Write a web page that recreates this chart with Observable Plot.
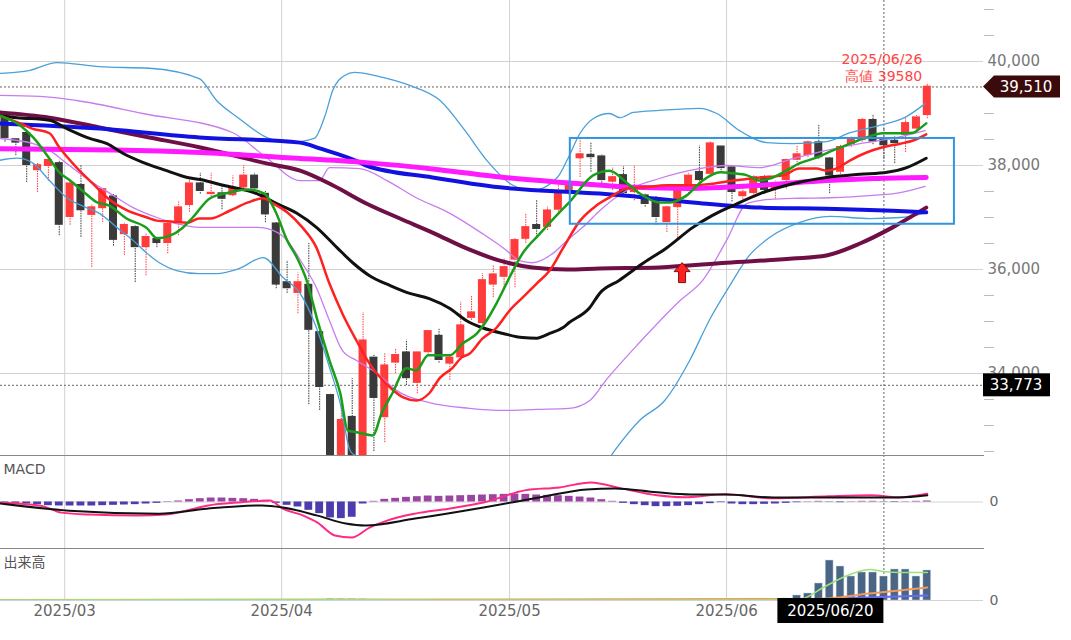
<!DOCTYPE html>
<html><head><meta charset="utf-8">
<script src="https://cdn.jsdelivr.net/npm/d3@7"></script>
<script src="https://cdn.jsdelivr.net/npm/@observablehq/plot@0.6"></script>
<style>
body{margin:0;background:#fff;font-family:"DejaVu Sans",Verdana,sans-serif;}
#wrap{position:relative;width:1071px;height:640px;overflow:hidden;background:#fff;}
#wrap svg{position:absolute;left:0;overflow:visible;}
</style></head><body><div id="wrap"></div>
<script>
// ---------- data ----------
const dates = ["2025-02-20","2025-02-21","2025-02-25","2025-02-26","2025-02-27","2025-02-28",
"2025-03-03","2025-03-04","2025-03-05","2025-03-06","2025-03-07","2025-03-10","2025-03-11","2025-03-12","2025-03-13","2025-03-14","2025-03-17","2025-03-18","2025-03-19","2025-03-21","2025-03-24","2025-03-25","2025-03-26","2025-03-27","2025-03-28","2025-03-31",
"2025-04-01","2025-04-02","2025-04-03","2025-04-04","2025-04-07","2025-04-08","2025-04-09","2025-04-10","2025-04-11","2025-04-14","2025-04-15","2025-04-16","2025-04-17","2025-04-18","2025-04-21","2025-04-22","2025-04-23","2025-04-24","2025-04-25","2025-04-28","2025-04-30",
"2025-05-01","2025-05-02","2025-05-07","2025-05-08","2025-05-09","2025-05-12","2025-05-13","2025-05-14","2025-05-15","2025-05-16","2025-05-19","2025-05-20","2025-05-21","2025-05-22","2025-05-23","2025-05-26","2025-05-27","2025-05-28","2025-05-29","2025-05-30",
"2025-06-02","2025-06-03","2025-06-04","2025-06-05","2025-06-06","2025-06-09","2025-06-10","2025-06-11","2025-06-12","2025-06-13","2025-06-16","2025-06-17","2025-06-18","2025-06-19","2025-06-20","2025-06-23","2025-06-24","2025-06-25","2025-06-26"];

const open = [38900,38500,38620,37900,37980,38040,37000,37620,37040,37170,
37400,36670,36810,36420,36580,36500,36880,37230,37650,37440,
37460,37420,37570,37800,37450,36880,35750,35540,35700,34790,
33580,31800,33160,31800,34300,33150,34200,34400,33810,34400,
34720,34180,34300,35060,34960,35700,35850,36180,36580,36850,
36810,37140,37480,38130,38200,38170,37680,37810,37480,37420,
37370,36900,37190,37520,37870,37830,38360,37960,37400,37460,
37770,37550,37710,38100,38190,38440,38130,37870,38400,38480,
38870,38520,38470,38580,38700,38960];
const high = [38950,38520,38650,38050,38150,38100,37700,38000,37250,37560,
37450,36900,36850,36700,36620,36900,37300,37750,37850,37850,
37600,37800,38000,37850,37500,36900,36170,35930,36500,34800,
33600,33400,33900,35170,34350,34380,34480,34640,34420,34830,
34850,34350,35370,35500,35920,36080,36200,36600,37080,37330,
37200,37610,37720,38520,38440,38200,37960,37980,38000,37450,
37400,37210,37560,37850,38380,38450,38380,38000,37550,37800,
37800,37700,38130,38380,38480,38770,38150,38400,38550,38900,
38980,38720,38570,38900,38960,39580];
const low = [38450,38190,37670,37480,37700,36650,36850,36620,36040,36900,
36450,36270,35750,35880,36420,36300,36650,37100,37450,37400,
37150,37400,37550,37500,36900,35630,35540,35150,33400,33290,
30800,30900,31000,31700,32500,32670,34000,33770,33610,34350,
34200,33870,34250,35020,34900,35460,35600,35650,36500,36620,
36750,37100,37420,37770,37870,37610,37520,37440,37320,37200,
36850,36710,36600,37450,37650,37800,37850,37300,37300,37400,
37450,37350,37550,38050,38150,38120,37460,37830,38350,38450,
38400,38120,38040,38250,38650,38900];
const close = [38520,38430,38000,38000,38100,36850,37650,37130,37190,37540,
36560,36850,36420,36620,36500,36870,37190,37650,37500,37470,
37350,37560,37800,37550,37050,35700,35630,35750,34830,33730,
31140,33100,31700,34630,33520,34150,34350,33900,34400,34810,
34250,34300,34920,35170,35790,35900,36040,36560,36810,36770,
37130,37480,37670,38210,38150,37710,37770,37460,37520,37250,
37000,37190,37520,37800,37710,38420,37940,37480,37480,37770,
37520,37600,38100,38210,38440,38150,37800,38350,38500,38870,
38450,38380,38420,38810,38920,39510];
const volume = [300,300,400,300,300,400,400,300,300,300,
400,300,400,300,300,300,300,300,300,300,
300,300,300,300,400,600,500,500,800,1000,
1500,1400,1300,1200,1000,900,600,500,500,500,
400,400,500,500,600,500,500,600,600,500,
500,500,500,600,500,500,500,500,400,400,
500,500,400,400,500,600,500,600,500,500,
700,1500,2000,5000,7000,17000,40000,34000,24000,28000,
28000,24000,31000,31000,24000,30000];
const macdHist = [-30,-40,-60,-80,-110,-120,-120,-120,-120,-110,
-100,-90,-80,-60,-40,-10,30,70,100,120,
120,110,100,80,50,-40,-100,-150,-250,-350,
-480,-500,-460,-60,20,80,110,140,160,180,
170,180,190,200,210,220,230,240,230,210,
200,190,170,150,120,70,20,-40,-80,-110,
-140,-140,-130,-110,-80,-50,-20,-60,-80,-80,
-70,-60,-40,-20,10,20,-10,-20,10,20,
20,-10,-15,10,20,30];

// indicator lines: [trading-day index, value]
const ma5 = [[-0.5,38960],[1.4,38770],[2.6,38540],[4.1,38130],[5.0,37870],[6.0,37710],[7.1,37520],[8.5,37290],[9.6,37230],[11.2,36980],[13.1,36790],[14.0,36600],[15.2,36650],[16.3,36790],[17.3,37000],[18.9,37370],[20.7,37480],[22.3,37540],[23.9,37460],[24.9,37130],[26.0,36560],[26.9,36230],[27.8,35790],[28.8,35020],[29.9,34250],[30.9,33620],[31.6,32900],[32.4,32870],[33.9,32810],[34.7,33230],[35.7,33620],[37.0,34100],[37.9,34060],[39.0,34350],[41.0,34350],[42.2,34580],[43.5,34770],[44.2,34960],[45.3,35350],[46.5,35850],[47.7,36310],[49.3,36690],[51.1,37100],[52.0,37290],[54.2,37810],[55.7,37900],[57.3,37670],[58.5,37460],[60.3,37290],[61.3,37290],[62.8,37420],[64.3,37710],[65.9,37870],[67.1,37850],[68.4,37810],[69.6,37710],[70.5,37750],[72.0,37900],[73.2,38040],[74.8,38150],[76.3,38290],[77.9,38420],[79.4,38540],[80.9,38620],[82.5,38620],[83.7,38630],[84.3,38710],[84.9,38810]];
const ma25 = [[-0.5,38960],[1.4,38810],[2.5,38710],[4.1,38620],[5.0,38350],[6.6,37960],[8.1,37650],[9.7,37330],[11.2,37140],[13.1,37000],[14.0,36940],[15.5,36920],[16.8,36900],[17.9,36980],[18.9,36980],[20.7,37130],[22.4,37290],[23.8,37370],[24.7,37270],[26.0,37100],[27.4,36810],[28.7,36420],[29.9,35730],[31.1,35150],[32.4,34630],[33.6,34190],[34.8,33870],[35.5,33730],[36.7,33540],[37.9,33480],[39.1,33620],[40.1,33920],[41.2,34100],[42.1,34310],[42.8,34380],[44.0,34670],[45.3,34880],[46.5,35210],[47.7,35460],[49.0,35730],[50.2,35980],[51.4,36400],[53.0,36940],[54.5,37230],[56.0,37420],[57.3,37560],[58.8,37580],[61.0,37620],[63.4,37620],[65.2,37650],[67.1,37710],[69.6,37770],[71.7,37810],[73.2,37940],[74.8,37940],[75.7,37900],[76.6,37940],[77.9,38100],[79.4,38250],[80.9,38350],[82.5,38420],[83.7,38480],[84.9,38600]];
const ma75 = [[-0.5,38960],[1.1,38920],[4.1,38870],[5.7,38710],[7.8,38520],[9.4,38420],[10.9,38230],[12.7,38060],[14.9,37900],[16.8,37770],[18.0,37730],[20.1,37620],[23.2,37460],[25.0,37270],[26.9,37080],[28.7,36810],[30.6,36420],[32.1,36120],[33.6,35880],[35.5,35690],[37.3,35540],[39.1,35440],[41.0,35250],[42.5,35020],[44.0,34880],[45.9,34770],[47.7,34690],[49.0,34680],[50.2,34770],[51.4,34880],[52.0,34980],[53.9,35270],[54.8,35540],[56.6,35790],[58.8,36120],[61.0,36420],[63.4,36810],[65.2,37040],[67.1,37230],[69.6,37460],[72.6,37650],[75.7,37770],[78.8,37830],[81.3,37870],[83.1,37960],[84.9,38140]];
const maMagenta = [[-0.5,38320],[10,38300],[18,38250],[26,38150],[33,38060],[40,37920],[46,37770],[51,37680],[55,37620],[58,37580],[63,37560],[69.6,37620],[75.7,37710],[80,37750],[84.9,37770]];
const maBlue = [[-0.5,38810],[8.7,38710],[17.9,38540],[27.2,38440],[29,38330],[32.7,38060],[33.3,38000],[39.4,37770],[45.6,37580],[54.8,37460],[57.3,37420],[63.4,37290],[69.6,37190],[75.7,37170],[81.8,37130],[84.9,37100]];
const maMaroon = [[-0.5,39020],[4.1,38920],[8.7,38730],[13.3,38540],[17.9,38350],[24.1,38040],[27.2,37900],[30.2,37620],[33.3,37270],[36.4,36980],[39.4,36710],[42.6,36400],[45.6,36170],[48.6,36040],[51.8,36000],[54.8,36020],[60.3,36040],[66.5,36130],[72.6,36210],[75.7,36270],[78.8,36500],[81.8,36810],[84.9,37190]];
const bbUp2 = [[-0.5,39770],[2.3,39830],[4.8,39980],[8.7,39900],[13.3,39870],[17.9,39670],[19.5,39250],[21.6,38900],[24.1,38540],[26.2,38440],[28.5,38520],[29.5,38960],[30.2,39440],[31.3,39730],[32.2,39790],[34.5,39710],[37.3,39540],[40.1,39250],[42.4,38670],[44.4,38100],[46.8,37620],[48.6,37520],[50.9,37770],[51.8,38100],[53,38620],[54.2,38900],[55.7,39000],[56.7,38920],[57.9,39020],[60.3,39060],[64,39100],[65.6,39000],[67.7,38670],[70.2,38440],[72.6,38420],[75.7,38460],[77.9,38630],[80.6,38770],[82.9,38920],[84.8,39190]];
const bbLo2 = [[-0.5,38100],[1.1,38140],[2.6,38040],[4.1,37710],[5.7,37380],[7.5,37190],[8.7,37080],[10.3,36810],[11.8,36560],[13.1,36310],[14.3,36120],[15.8,35980],[17.9,35920],[19.5,35920],[21.6,36020],[23.8,36230],[25.6,35850],[27.2,35540],[28.7,34880],[29.9,34120],[30.9,33420],[31.8,32520],[32.4,32400],[34.3,31900],[36.1,31500],[39.1,31500],[42.8,31600],[45.9,31700],[49,31800],[52,31700],[54.8,32100],[56.2,32520],[58.5,33100],[60.8,33480],[63.1,34250],[64.9,35020],[66.8,35690],[68.6,36270],[70.5,36620],[73.2,36900],[76,37020],[79.7,36980],[82.5,37000],[84.8,37080]];
const bbUp1 = [[-0.5,39350],[3.2,39330],[6.6,39250],[12.7,39000],[21,38630],[24.1,38150],[27.2,37710],[29,37710],[29.9,37960],[32.7,37940],[35.2,37710],[37.9,37380],[41,37080],[44,36690],[46.2,36370],[47.4,36170],[48.6,36130],[50.5,36310],[51.8,36560],[53.6,36880],[54.8,37130],[57.3,37520],[60.3,37750],[64,37940],[66.5,38000],[69.6,37960],[72.6,38130],[75.7,38290],[78.8,38420],[81.8,38520],[84.8,38670]];
const bbLo1 = [[-0.5,38520],[2.6,38420],[4.1,38290],[5.7,38040],[7.8,37710],[9.7,37460],[11.8,37190],[14,37000],[15.8,36880],[17.9,36810],[20.1,36810],[23.2,36810],[24.1,36790],[26,36560],[27.4,36120],[28.7,35650],[29.9,35020],[31.1,34440],[32.4,34250],[34.3,34000],[36.1,33670],[39.1,33440],[42.8,33330],[45.9,33290],[49,33310],[52,33330],[53.9,33480],[55.5,33900],[58.5,34600],[62.2,35400],[64.3,35790],[66.5,36560],[68.4,37270],[70.5,37350],[73.2,37370],[76,37380],[79.7,37420],[82.5,37480],[84.8,37600]];
const macdLine = [[-0.5,-20],[3.3,-110],[5.2,-320],[7.8,-380],[12.2,-410],[14.8,-380],[16.7,-260],[18.6,-110],[21.8,-5],[24.4,45],[25.6,-200],[27.5,-410],[28.8,-620],[30.4,-1010],[31.95,-1070],[33.6,-770],[35.2,-560],[37.8,-350],[40.9,-200],[44.1,-15],[47.9,350],[51.1,440],[54,590],[56.8,410],[60.1,200],[62.6,140],[66.4,230],[70.8,110],[75.9,170],[79.8,200],[82.3,140],[85,250]];
const signalLine = [[-0.5,-45],[5.9,-260],[14.2,-350],[18.6,-200],[23.7,-105],[25.6,-165],[28.8,-410],[31.4,-650],[33.2,-710],[37.8,-500],[44.1,-165],[49.2,135],[53.6,380],[56.2,410],[60.1,290],[63.2,225],[66.4,225],[70.8,135],[75.9,135],[82.3,135],[85,200]];
const volMaGreen = [[-0.5,400],[30,1100],[40,600],[70,600],[72,1000],[73.5,2000],[75.4,13000],[77.2,23000],[79.7,31000],[80.9,29000],[82.7,28000],[85,28000]];
const volMaOrange = [[-0.5,400],[74.8,1500],[79.7,7000],[85,13000]];
const volMaBlue = [[-0.5,300],[70,500],[76.6,2000],[85,5000]];

const priceGrid = [34000, 36000, 38000, 40000];
const priceTicks = [32500,33000,33500,34500,35000,35500,36500,37000,37500,38500,39000,39500,40500,41000];
const lastClose = 39510;
const lowMark = 33773;
const cursorDate = "2025-06-20";
const highNote = {date: "2025-06-26", price: 39580, label: "2025/06/26\n高値 39580"};
const box = [{k1: 52.1, k2: 87.5, lo: 36870, hi: 38520}];
const arrowMarks = [{k: 62.4, price: 35940}];

// ---------- helpers ----------
const font = '"DejaVu Sans", Verdana, sans-serif';
const rows = dates.map((d, i) => ({i, o: open[i], h: high[i], l: low[i], c: close[i], v: volume[i], m: macdHist[i]}));
const monthLines = dates.map((d, i) => i).filter(i => i > 0 && dates[i].slice(0, 7) !== dates[i - 1].slice(0, 7)).map(i => i - 0.5);
const cursorIdx = dates.indexOf(cursorDate);
const noteIdx = dates.indexOf(highNote.date);
const X = {domain: [-0.415, 90.18], axis: null, label: null};
const pairs = a => a.map(([k, v]) => ({k, v}));
const ln = (a, stroke, w) => Plot.line(pairs(a), {x: "k", y: "v", stroke, strokeWidth: w, curve: "monotone-x", clip: true});
const UP = "#ff3b3b", DOWN = "#3a3a3a";
const common = {width: 1071, marginLeft: 0, marginRight: 88, marginTop: 0, x: X, color: {type: "identity"},
  style: {fontFamily: font, background: "transparent", overflow: "visible"}};
const arrowSymbol = {draw(ctx) {
  ctx.moveTo(0, -10); ctx.lineTo(8, -1); ctx.lineTo(3.5, -1); ctx.lineTo(3.5, 10);
  ctx.lineTo(-3.5, 10); ctx.lineTo(-3.5, -1); ctx.lineTo(-8, -1); ctx.closePath();
}};

// ---------- main price panel ----------
const main = Plot.plot({
  ...common, height: 455, marginBottom: 0,
  y: {domain: [32423, 41173], axis: null, label: null},
  marks: [
    Plot.ruleY(priceGrid, {stroke: "#d2d2d2"}),
    Plot.ruleX(monthLines, {stroke: "#d2d2d2"}),
    Plot.ruleY([lastClose], {stroke: "#7a5a5a", strokeDasharray: "2,2"}),
    Plot.ruleY([lowMark], {stroke: "#666", strokeDasharray: "2,2"}),
    Plot.ruleX([cursorIdx], {stroke: "#666", strokeDasharray: "2,2"}),
    Plot.ruleX(rows, {x: "i", y1: "l", y2: "h", stroke: d => d.c >= d.o ? UP : DOWN, strokeDasharray: "1.5,1", clip: true}),
    Plot.rect(rows, {x1: d => d.i - 0.37, x2: d => d.i + 0.37, y1: d => Math.min(d.o, d.c), y2: d => Math.max(d.o, d.c) + 15,
      fill: d => d.c >= d.o ? UP : DOWN, clip: true}),
    ln(bbUp2, "#4aa0d8", 1.3), ln(bbLo2, "#4aa0d8", 1.3),
    ln(bbUp1, "#c87cf0", 1.3), ln(bbLo1, "#c87cf0", 1.3),
    ln(maMaroon, "#6e0f45", 4),
    ln(maBlue, "#1212e0", 4),
    ln(maMagenta, "#ff1aff", 5),
    ln(ma75, "#111", 3),
    ln(ma25, "#ff2020", 2.5),
    ln(ma5, "#1a9e1a", 2.5),
    Plot.rect(box, {x1: "k1", x2: "k2", y1: "lo", y2: "hi", fill: "none", stroke: "#2f95e0", strokeWidth: 2}),
    Plot.dot(arrowMarks, {x: "k", y: "price", symbol: arrowSymbol, fill: "#ff2020", stroke: "#7a1010", strokeWidth: 1}),
    Plot.text([highNote], {x: () => noteIdx, y: "price", text: "label", textAnchor: "end", lineAnchor: "bottom",
      dx: -5, dy: -2, fill: "#ff4545", fontSize: 14, lineHeight: 1.22}),
    Plot.axisY({anchor: "right", ticks: priceTicks, tickFormat: () => "", tickSize: 10, stroke: "#bbb", label: null}),
    Plot.axisY({anchor: "right", ticks: priceGrid, tickFormat: d3.format(","), tickSize: 0, tickPadding: 4,
      fill: "#777", fontSize: 15, label: null})
  ]
});

// ---------- MACD panel ----------
const macd = Plot.plot({
  ...common, height: 93, marginBottom: 0,
  y: {domain: [-1400, 1400], axis: null, label: null},
  marks: [
    Plot.ruleX(monthLines, {stroke: "#d2d2d2"}),
    Plot.ruleY([0], {stroke: "#d2d2d2"}),
    Plot.ruleX([cursorIdx], {stroke: "#666", strokeDasharray: "2,2"}),
    Plot.rect(rows, {x1: d => d.i - 0.36, x2: d => d.i + 0.36, y1: 0, y2: "m", fill: d => d.m >= 0 ? "#9b45a3" : "#4d3cae"}),
    ln(macdLine, "#ff2a84", 2),
    ln(signalLine, "#111", 2),
    Plot.frame({anchor: "top", stroke: "#888"}),
    Plot.text(["MACD"], {frameAnchor: "top-left", dx: 3, dy: 9, fill: "#555", fontSize: 14}),
    Plot.axisY({anchor: "right", ticks: [0], tickSize: 0, tickPadding: 6, fill: "#666", fontSize: 14, label: null})
  ]
});

// ---------- volume panel ----------
const vol = Plot.plot({
  ...common, height: 92, marginBottom: 40,
  y: {domain: [0, 52000], axis: null, label: null},
  marks: [
    Plot.ruleX(monthLines, {stroke: "#d2d2d2"}),
    Plot.ruleY([0], {stroke: "#d2d2d2"}),
    Plot.ruleX([cursorIdx], {stroke: "#666", strokeDasharray: "2,2"}),
    Plot.rect(rows, {x1: d => d.i - 0.36, x2: d => d.i + 0.36, y1: 0, y2: "v", fill: "#4a6585", stroke: "#c8d4e0", strokeWidth: 0.5}),
    ln(volMaBlue, "#6a6af2", 2),
    ln(volMaOrange, "#f0995a", 2),
    ln(volMaGreen, "#9be27c", 1.5),
    Plot.frame({anchor: "top", stroke: "#888"}),
    Plot.text(["出来高"], {frameAnchor: "top-left", dx: 3, dy: 9, fill: "#555", fontSize: 14,
      fontFamily: '"Noto Sans CJK JP", sans-serif'}),
    Plot.axisY({anchor: "right", ticks: [0], tickSize: 0, tickPadding: 6, fill: "#666", fontSize: 14, label: null}),
    Plot.axisX({ticks: monthLines, tickFormat: t => dates[Math.round(t + 0.5)].slice(0, 7).replace("-", "/"),
      tickSize: 0, tickPadding: 5, fill: "#666", fontSize: 15, label: null})
  ]
});

const wrap = document.getElementById("wrap");
vol.style.top = "548px"; macd.style.top = "455px"; main.style.top = "0px";
wrap.appendChild(vol); wrap.appendChild(macd); wrap.appendChild(main);

// price tags
const ys = main.scale("y"), right = 1071 - 88;
const g = d3.select(main);
const yc = ys.apply(lastClose);
g.append("path").attr("d", `M${right},${yc} L${right + 11},${yc - 11} L${right + 77},${yc - 11} L${right + 77},${yc + 11} L${right + 11},${yc + 11} Z`)
  .attr("fill", "#3b0b0b");
g.append("text").attr("x", right + 43).attr("y", yc).attr("dy", "0.35em").attr("text-anchor", "middle")
  .attr("fill", "#fff").attr("font-size", 15).attr("font-family", font).text(d3.format(",")(lastClose));
const yl = ys.apply(lowMark);
g.append("rect").attr("x", right).attr("y", yl - 11.5).attr("width", 67).attr("height", 23).attr("fill", "#000");
g.append("text").attr("x", right + 33).attr("y", yl).attr("dy", "0.35em").attr("text-anchor", "middle")
  .attr("fill", "#fff").attr("font-size", 15).attr("font-family", font).text(d3.format(",")(lowMark));

// cursor date label
const xs = vol.scale("x");
const xc = xs.apply(cursorIdx);
const gv = d3.select(vol);
gv.append("rect").attr("x", xc - 106).attr("y", 50).attr("width", 106).attr("height", 25).attr("fill", "#000");
gv.append("text").attr("x", xc - 53).attr("y", 62.5).attr("dy", "0.35em").attr("text-anchor", "middle")
  .attr("fill", "#fff").attr("font-size", 15).attr("font-family", font).text(cursorDate.replace(/-/g, "/"));
</script></body></html>
